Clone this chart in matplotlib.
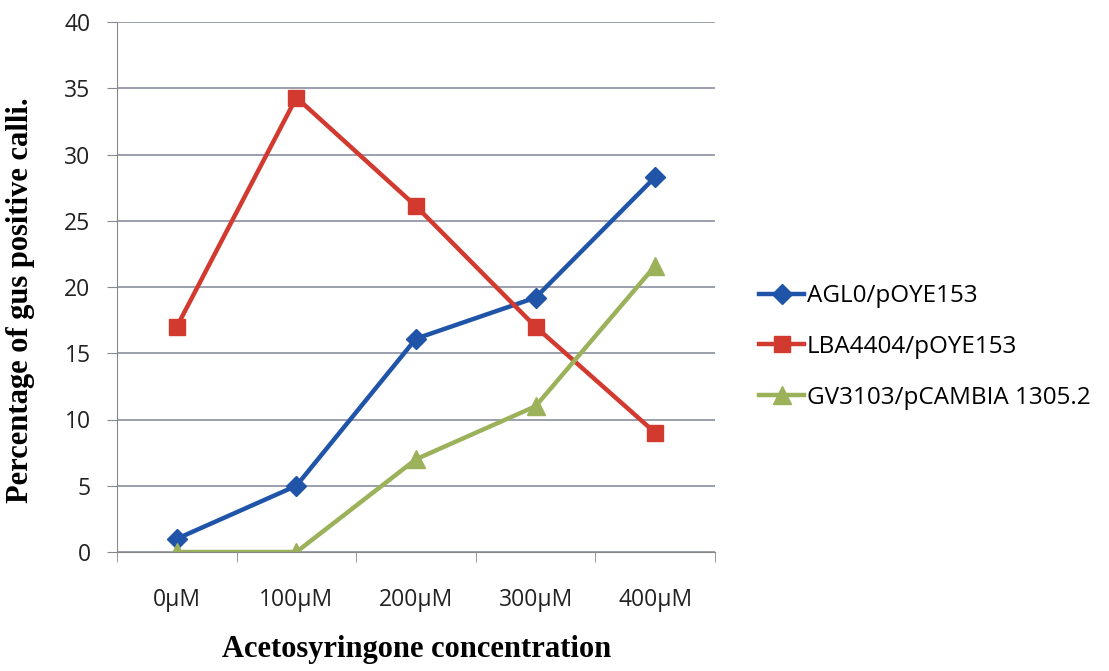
import matplotlib
matplotlib.use("Agg")
import matplotlib.pyplot as plt

categories = ["0µM", "100µM", "200µM", "300µM", "400µM"]
agl0 = [1, 5, 16.1, 19.2, 28.3]
lba4404 = [17, 34.3, 26.1, 17, 9]
gv3103 = [0, 0, 7, 11, 21.6]
series_names = ["AGL0/pOYE153", "LBA4404/pOYE153", "GV3103/pCAMBIA 1305.2"]

W, H = 1109, 671
fig = plt.figure(figsize=(W / 100, H / 100), dpi=100)
ax = fig.add_axes([117 / W, 1 - 552 / H, 598 / W, 530 / H])

x = list(range(len(categories)))
ax.plot(x, agl0, color="#1f54a8", lw=3.2, marker="D", ms=10, label=series_names[0])
ax.plot(x, lba4404, color="#d23a30", lw=3.2, marker="s", ms=12, label=series_names[1])
ax.plot(x, gv3103, color="#9bb15a", lw=3.2, marker="^", ms=13, label=series_names[2])

ax.set_xlim(-0.5, 4.5)
ax.set_ylim(0, 40)
ax.set_yticks(range(0, 41, 5))
ax.set_xticks(x)
ax.set_xticklabels(categories)
ax.set_xticks([i + 0.5 for i in range(-1, 5)], minor=True)
ax.tick_params(axis="x", which="major", length=0, pad=26, labelsize=16.5, labelcolor="#222222")
ax.tick_params(axis="x", which="minor", length=7, color="#888888", direction="out")
ax.tick_params(axis="y", length=7, color="#888888", direction="out", labelsize=16.5,
               labelcolor="#222222", pad=12)
for lab in ax.get_xticklabels() + ax.get_yticklabels():
    lab.set_fontfamily("Open Sans")

ax.grid(axis="y", color="#8a8fa0", lw=1.2)
ax.set_axisbelow(True)
for s in ["top", "right"]:
    ax.spines[s].set_visible(False)
ax.spines["left"].set_color("#888888")
ax.spines["bottom"].set_color("#888888")

fig.text(417 / W, 1 - 650 / H, "Acetosyringone concentration", fontfamily="Liberation Serif",
         fontweight="bold", fontsize=22, ha="center", va="center")
fig.text(21 / W, 1 - 300 / H, "Percentage of gus positive calli.", fontfamily="Liberation Serif",
         fontweight="bold", fontsize=22, ha="center", va="center", rotation=90)

leg = ax.legend(loc="center left", bbox_to_anchor=(747 / W, 1 - 347 / H),
                bbox_transform=fig.transFigure, frameon=False, borderpad=0,
                prop={"family": "Open Sans", "size": 17.5}, handlelength=1.85,
                handletextpad=0.1, labelspacing=1.1)

fig.savefig("out.png", dpi=100)
